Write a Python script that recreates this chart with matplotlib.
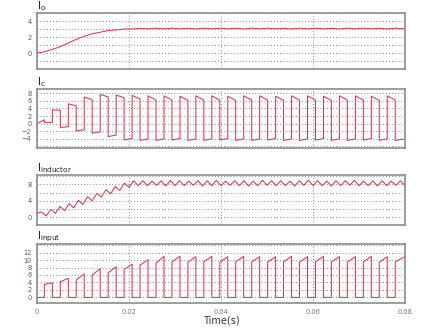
import matplotlib.pyplot as plt
from matplotlib.ticker import MultipleLocator

# switching instants, ms (switch on / switch off)
t_on = [1.60, 5.07, 8.53, 12.00, 15.47, 18.94, 22.40, 25.87, 29.34, 32.80, 36.27, 39.74,
        43.20, 46.67, 50.14, 53.60, 57.07, 60.54, 64.00, 67.47, 70.94, 74.40, 77.87]
t_off = [3.34, 6.81, 10.27, 13.74, 17.21, 20.68, 24.14, 27.61, 31.08, 34.54, 38.01, 41.48,
         44.94, 48.41, 51.88, 55.34, 58.81, 62.28, 65.74, 69.21, 72.68, 76.14, 80.10]

# output current at the switching instants
io_on = [0.15, 0.80, 1.70, 2.40, 2.80, 3.00, 3.08, 3.10, 3.10, 3.09, 3.10, 3.10,
         3.09, 3.10, 3.10, 3.09, 3.10, 3.10, 3.09, 3.10, 3.10, 3.09, 3.10]
io_off = [0.45, 1.25, 2.10, 2.60, 2.88, 3.00, 3.03, 3.02, 3.02, 3.01, 3.02, 3.02,
          3.01, 3.02, 3.02, 3.01, 3.02, 3.02, 3.01, 3.02, 3.02, 3.01, 3.02]

# capacitor current, start/end of each on and off interval
ic_init = [0.0, 1.0]
ic_on_start = [0.3, -1.0, -1.9, -2.5, -3.4, -4.3, -4.4, -4.4, -4.3, -4.4, -4.4, -4.3,
               -4.4, -4.4, -4.3, -4.4, -4.4, -4.3, -4.4, -4.4, -4.3, -4.4, -4.4]
ic_on_end = [0.3, -0.8, -1.6, -2.2, -3.0, -3.9, -4.0, -4.0, -3.9, -4.0, -4.0, -3.9,
             -4.0, -4.0, -3.9, -4.0, -4.0, -3.9, -4.0, -4.0, -3.9, -4.0, -4.0]
ic_off_start = [3.6, 5.2, 7.0, 7.7, 7.5, 7.4, 7.3, 7.3, 7.2, 7.3, 7.3, 7.2,
                7.3, 7.3, 7.2, 7.3, 7.3, 7.2, 7.3, 7.3, 7.2, 7.3, 7.3]
ic_off_end = [3.5, 4.7, 6.3, 7.0, 6.8, 6.5, 6.2, 6.2, 6.1, 6.2, 6.2, 6.1,
              6.2, 6.2, 6.1, 6.2, 6.2, 6.1, 6.2, 6.2, 6.1, 6.2, 6.2]

# inductor current: start value, then peaks (odd ms) and valleys (even ms)
il_start = 0.9
il_peaks = [1.3, 1.9, 2.6, 3.3, 4.1, 5.0, 5.8, 6.7, 7.5, 8.3, 8.9,
            8.9, 8.8, 8.9, 9.0, 8.9, 8.8, 8.9, 8.9, 9.0, 8.8, 8.9, 8.9, 8.8, 9.0,
            8.9, 8.9, 8.8, 8.9, 9.0, 8.9, 8.8, 8.9, 8.9, 9.0, 8.8, 8.9, 8.9, 8.8, 8.9]
il_valleys = [0.3, 0.9, 1.6, 2.3, 3.1, 4.0, 4.9, 5.7, 6.5, 7.3, 7.7,
              7.7, 7.8, 7.6, 7.7, 7.7, 7.8, 7.6, 7.7, 7.7, 7.8, 7.7, 7.6, 7.7, 7.8,
              7.7, 7.7, 7.6, 7.8, 7.7, 7.7, 7.6, 7.7, 7.8, 7.7, 7.7, 7.6, 7.7, 7.8, 7.7]

# input current during each on interval
iin_start = [3.5, 4.2, 4.7, 6.0, 6.6, 7.5, 8.6, 9.2, 9.5, 9.4, 9.5, 9.4,
             9.5, 9.5, 9.4, 9.5, 9.4, 9.5, 9.5, 9.4, 9.5, 9.4, 9.5]
iin_end = [3.9, 5.1, 6.3, 7.7, 8.2, 8.9, 10.1, 11.0, 11.0, 10.9, 11.0, 10.9,
           11.0, 10.9, 10.9, 11.0, 10.9, 11.0, 10.9, 10.9, 11.0, 10.9, 11.0]

T_END = 80.0
n = len(t_on)

# build the waveforms (time in ms, plotted in s)
io_x, io_y = [0.0], [0.0]
for k in range(n):
    io_x += [t_on[k], t_off[k]]
    io_y += [io_on[k], io_off[k]]

ic_x, ic_y = [0.0, t_on[0]], list(ic_init)
for k in range(n):
    t_next = t_on[k + 1] if k + 1 < n else T_END
    ic_x += [t_on[k], t_off[k], t_off[k], t_next]
    ic_y += [ic_on_start[k], ic_on_end[k], ic_off_start[k], ic_off_end[k]]

il_x, il_y = [0.0], [il_start]
for k in range(len(il_peaks)):
    il_x += [2 * k + 1, 2 * k + 2]
    il_y += [il_peaks[k], il_valleys[k]]

iin_x, iin_y = [0.0], [0.0]
for k in range(n):
    iin_x += [t_on[k], t_on[k], t_off[k], t_off[k]]
    iin_y += [0.0, iin_start[k], iin_end[k], 0.0]
iin_x.append(T_END)
iin_y.append(0.0)

traces = [
    (io_x, io_y, r'$\mathregular{I_o}$', (-2, 5), [0, 2, 4], 1),
    (ic_x, ic_y, r'$\mathregular{I_c}$', (-6.4, 9.1), [-4, -2, 0, 2, 4, 6, 8], 2),
    (il_x, il_y, r'$\mathregular{I_{inductor}}$', (-1.8, 10.3), [0, 4, 8], 2),
    (iin_x, iin_y, r'$\mathregular{I_{input}}$', (-1.5, 14.3), [0, 2, 4, 6, 8, 10, 12], 2),
]

# axes rectangles in figure pixels (top, bottom)
W, H = 438, 329
boxes = [(13, 69), (89, 148), (175, 224.5), (244, 303)]
left, right = 37 / W, 405 / W

fig = plt.figure(figsize=(W / 100, H / 100), dpi=100)
line_col = '#d23a4c'
grid_kw = dict(color='#8a8a8a', linestyle=(0, (1, 2.2)), linewidth=0.7)

for i, ((x, y, name, ylim, yt, ystep), (top, bot)) in enumerate(zip(traces, boxes)):
    ax = fig.add_axes([left, 1 - bot / H, right - left, (bot - top) / H])
    ax.plot([v / 1000 for v in x], y, color=line_col, linewidth=0.75)
    ax.set_xlim(0, 0.08)
    ax.set_ylim(*ylim)
    ax.set_yticks(yt)
    ax.yaxis.set_minor_locator(MultipleLocator(ystep))
    ax.set_xticks([0, 0.02, 0.04, 0.06, 0.08])
    ax.grid(True, which='both', axis='y', **grid_kw)
    ax.grid(True, which='major', axis='x', **grid_kw)
    ax.tick_params(which='both', length=0, labelsize=4.8, labelcolor='#55557a', pad=4)
    for s in ax.spines.values():
        s.set_color('#8c8c8c')
        s.set_linewidth(1.2)
    ax.text(0.0, 1.0, name, transform=ax.transAxes, ha='left', va='bottom',
            fontsize=7.5, color='#222222')
    if i < 3:
        ax.set_xticklabels([])
    else:
        ax.set_xticklabels(['0', '0.02', '0.04', '0.06', '0.08'], color='#777777')
        ax.set_xlabel('Time(s)', fontsize=7, color='#333333', labelpad=1)

fig.savefig('out.png', dpi=100)
